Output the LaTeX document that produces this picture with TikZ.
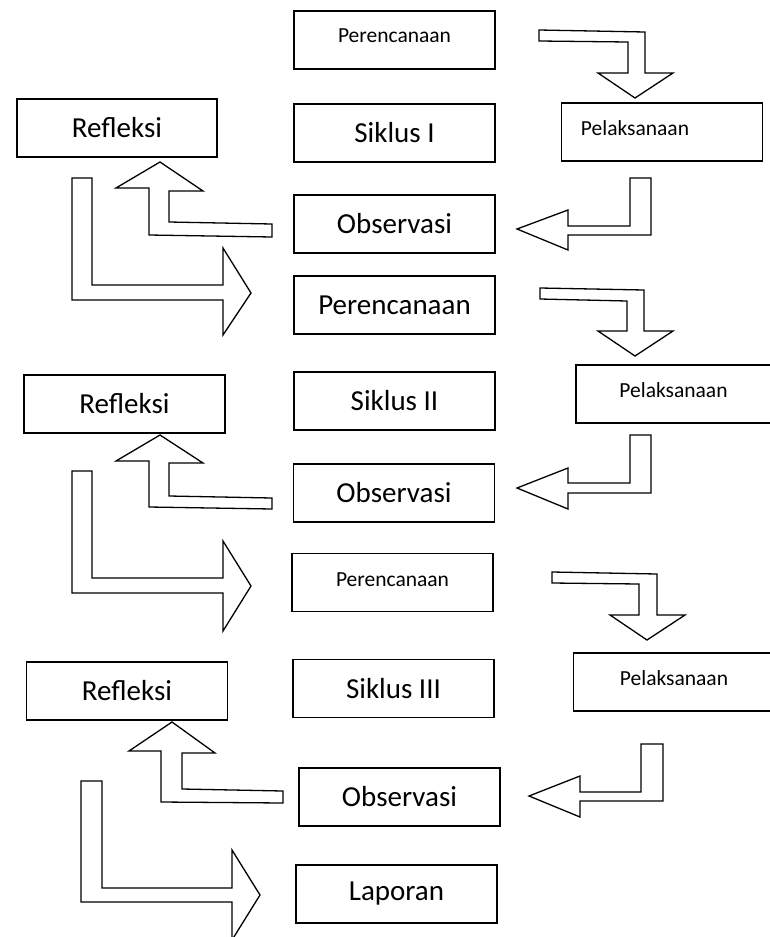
\documentclass[tikz,border=0pt]{standalone}
\usepackage{fontspec}
\setmainfont{Carlito}
\tikzset{
  box/.style={draw=black, line width=1.5pt, rectangle, minimum width=201pt, minimum height=58pt, inner sep=0pt, font=\fontsize{29}{33}\selectfont},
  smalltxt/.style={font=\fontsize{21.5}{25}\selectfont, inner sep=0pt},
  blockarrow/.style={draw=black, line width=1.3pt, fill=white, line join=miter}
}
\begin{document}
\begin{tikzpicture}[x=1pt,y=-1pt]
\clip (0,0) rectangle (770,937);
\fill[white] (0,0) rectangle (770,937);

% ---------- Siklus I ----------
\node[box, label={[smalltxt, yshift=4pt]center:Perencanaan}] (per1) at (394.5,40) {};
\node[box] (sik1) at (394.5,133) {Siklus I};
\node[box, minimum width=201pt, label={[smalltxt, xshift=-27pt, yshift=4pt]center:Pelaksanaan}] (pel1) at (662,132) {};
\node[box, minimum width=200pt] (ref1) at (117,128) {Refleksi};
\node[box] (obs1) at (394.5,224) {Observasi};
\node[box] (per2) at (394.5,305) {Perencanaan};

\draw[blockarrow] (539,30) -- (645,32) -- (645,73) -- (673,73) -- (635,98) -- (598,73) -- (628,73) -- (628,42) -- (539,41) -- cycle;
\draw[blockarrow] (630,178) -- (651,178) -- (651,235) -- (568,235) -- (568,250) -- (517,229) -- (568,210) -- (568,226) -- (630,226) -- cycle;
\draw[blockarrow] (272,224) -- (169,222) -- (169,191) -- (203,191) -- (160,162) -- (116,188) -- (149,188) -- (149,235) -- (272,237) -- cycle;
\draw[blockarrow] (72,178) -- (92,178) -- (92,285) -- (223,285) -- (223,248) -- (251,293) -- (223,335) -- (223,300) -- (72,300) -- cycle;

% ---------- Siklus II ----------
\node[box, label={[smalltxt, xshift=-3pt, yshift=4pt]center:Pelaksanaan}] (pel2) at (676.5,394) {};
\node[box] (ref2) at (124.5,404) {Refleksi};
\node[box] (sik2) at (394.5,401) {Siklus II};
\node[box] (obs2) at (394,493) {Observasi};
\node[box, label={[smalltxt, yshift=3pt]center:Perencanaan}] (per3) at (392.5,582.5) {};

\draw[blockarrow] (540,288) -- (644,290) -- (644,331) -- (673,331) -- (635,356) -- (598,331) -- (627,331) -- (627,301) -- (540,299) -- cycle;
\draw[blockarrow] (630,435) -- (651,435) -- (651,493) -- (568,493) -- (568,509) -- (517,488) -- (568,468) -- (568,483) -- (630,483) -- cycle;
\draw[blockarrow] (272,498) -- (169,496) -- (169,463) -- (203,463) -- (160,435) -- (116,461) -- (149,461) -- (149,507) -- (272,509) -- cycle;
\draw[blockarrow] (72,471) -- (92,471) -- (92,578) -- (223,578) -- (223,541) -- (251,586) -- (223,631) -- (223,593) -- (72,593) -- cycle;

% ---------- Siklus III ----------
\node[box, label={[smalltxt, xshift=0pt, yshift=4pt]center:Pelaksanaan}] (pel3) at (674,682) {};
\node[box] (ref3) at (127,691) {Refleksi};
\node[box] (sik3) at (393.5,688.5) {Siklus III};
\node[box] (obs3) at (399.5,797) {Observasi};
\node[box] (lap) at (396.5,894) {Laporan};

\draw[blockarrow] (552,572) -- (657,574) -- (657,615) -- (685,615) -- (647,640) -- (610,615) -- (639,615) -- (639,584) -- (552,583) -- cycle;
\draw[blockarrow] (641,744) -- (663,744) -- (663,801) -- (580,801) -- (580,817) -- (529,796) -- (580,776) -- (580,792) -- (641,792) -- cycle;
\draw[blockarrow] (283,791) -- (182,789) -- (182,753) -- (215,753) -- (172,722) -- (129,751) -- (161,751) -- (161,802) -- (283,803) -- cycle;
\draw[blockarrow] (81,781) -- (102,781) -- (102,888) -- (232,888) -- (232,850) -- (260,895) -- (232,940) -- (232,902) -- (81,902) -- cycle;
\end{tikzpicture}
\end{document}
